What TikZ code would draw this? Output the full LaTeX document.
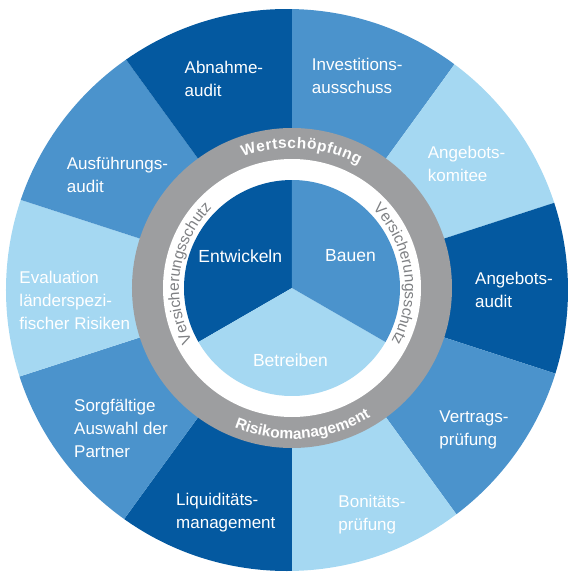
\documentclass[tikz,border=0pt]{standalone}
\usepackage{fontspec}
\setmainfont{Liberation Sans}
\usetikzlibrary{decorations.text}
\definecolor{darkblue}{HTML}{0459A0}
\definecolor{midblue}{HTML}{4B93CC}
\definecolor{lightblue}{HTML}{A5D8F2}
\definecolor{ringgray}{HTML}{9D9EA0}
\definecolor{verstext}{HTML}{7E8083}
\newcommand{\lblfont}{\fontsize{17}{23}\selectfont}
\newcommand{\innerlblfont}{\fontsize{17.5}{21}\selectfont}
\newcommand{\ringboldfont}{\fontsize{15.5}{15.5}\selectfont\bfseries}
\newcommand{\versfont}{\fontsize{15.5}{15.5}\selectfont}
\begin{document}
\begin{tikzpicture}[x=1pt,y=1pt,
  lbl/.style={anchor=west, align=left, text=white, font=\lblfont, inner sep=0pt},
  inlbl/.style={text=white, font=\innerlblfont, inner sep=0pt}]
\useasboundingbox (-292,-286) rectangle (280,288);
% outer segments
\begin{scope}
  \clip (-5,-2) circle[radius=281pt];
  \foreach \a/\c in {54/midblue, 18/lightblue, -18/darkblue, -54/midblue, -90/lightblue,
                     -126/darkblue, -162/midblue, 162/lightblue, 126/midblue, 90/darkblue}
    \fill[\c] (0,0) -- (\a:330pt) arc[start angle=\a, delta angle=36, radius=330pt] -- cycle;
\end{scope}
% rings
\fill[ringgray] (0,0) circle[radius=160pt];
\fill[white] (0,0) circle[radius=129pt];
% inner circle
\fill[darkblue] (0,0) -- (90:108pt) arc[start angle=90, end angle=210, radius=108pt] -- cycle;
\fill[lightblue] (0,0) -- (210:108pt) arc[start angle=210, end angle=330, radius=108pt] -- cycle;
\fill[midblue] (0,0) -- (-30:108pt) arc[start angle=-30, end angle=90, radius=108pt] -- cycle;
% ring texts
\path[decorate, decoration={text along path, text align=fit to path,
  text={|\ringboldfont\color{white}|Wertschöpfung}}]
  (110.5:140pt) arc[start angle=110.5, end angle=61.5, radius=140pt];
\path[decorate, decoration={text along path, text align=center,
  text={|\ringboldfont\color{white}|Risikomanagement}}]
  (-121:151pt) arc[start angle=-121, end angle=-50, radius=151pt];
\path[decorate, decoration={text along path, text align=center,
  text={|\versfont\color{verstext}|Versicherungsschutz}}]
  (221.5:113pt) arc[start angle=221.5, end angle=121.5, radius=113pt];
\path[decorate, decoration={text along path, text align=center,
  text={|\versfont\color{verstext}|Versicherungsschutz}}]
  (58:113pt) arc[start angle=58, end angle=-42, radius=113pt];
% outer labels
\node[lbl] (abnahme) at (-107.5,209.5) {Abnahme-\\audit};
\node[lbl] (invest) at (19.7,212) {Investitions-\\ausschuss};
\node[lbl] (angkom) at (135.7,124.5) {Angebots-\\komitee};
\node[lbl] (angaud) at (183,-2) {Angebots-\\audit};
\node[lbl] (vertrag) at (147.3,-142) {Vertrags-\\prüfung};
\node[lbl] (bonitaet) at (46.3,-226.5) {Bonitäts-\\prüfung};
\node[lbl] (liquid) at (-116,-224.5) {Liquiditäts-\\management};
\node[lbl] (sorg) at (-218,-140) {Sorgfältige\\Auswahl der\\Partner};
\node[lbl] (eval) at (-272.7,-12) {Evaluation\\länderspezi-\\fischer Risiken};
\node[lbl] (ausf) at (-225.3,113.3) {Ausführungs-\\audit};
% inner labels
\node[inlbl] (entw) at (-51.7,32) {Entwickeln};
\node[inlbl] (bauen) at (58.5,32) {Bauen};
\node[inlbl] (betr) at (-1.5,-72) {Betreiben};
\end{tikzpicture}
\end{document}
